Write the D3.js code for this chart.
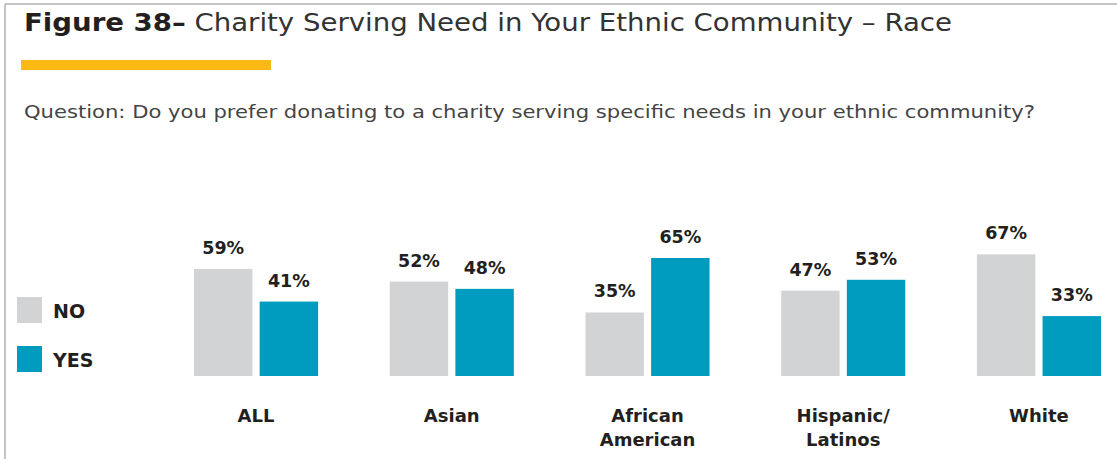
<!DOCTYPE html>
<html>
<head>
<meta charset="utf-8">
<script src="https://cdn.jsdelivr.net/npm/d3@7"></script>
<style>
  body { margin: 0; background: #fff; }
  svg text { font-family: "DejaVu Sans", sans-serif; fill: #231f20; }
</style>
</head>
<body>
<svg id="chart" width="1117" height="459"></svg>
<script>
const categories = ['ALL', 'Asian', 'African American', 'Hispanic/ Latinos', 'White'];
const series = ['NO', 'YES'];
const noValues = [59, 52, 35, 47, 67];
const yesValues = [41, 48, 65, 53, 33];

const colors = { NO: '#d1d3d4', YES: '#009cbf' };

const svg = d3.select('#chart');
const W = +svg.attr('width'), H = +svg.attr('height');

svg.append('rect').attr('width', W).attr('height', H).attr('fill', '#fff');

// frame lines (top + left)
svg.append('line').attr('x1', 5).attr('x2', W).attr('y1', 4).attr('y2', 4)
  .attr('stroke', '#c4c4c4').attr('stroke-width', 2);
svg.append('line').attr('x1', 5).attr('x2', 5).attr('y1', 4).attr('y2', H)
  .attr('stroke', '#c4c4c4').attr('stroke-width', 2);

// title
const title = svg.append('text')
  .attr('x', 24).attr('y', 31)
  .attr('font-size', 25)
  .attr('textLength', 928).attr('lengthAdjust', 'spacingAndGlyphs');
title.append('tspan').attr('font-weight', 'bold').text('Figure 38–');
title.append('tspan').text(' Charity Serving Need in Your Ethnic Community – Race')
  .style('fill', '#333');

svg.append('rect').attr('x', 21).attr('y', 60).attr('width', 250).attr('height', 10)
  .attr('fill', '#fdb913');

svg.append('text')
  .attr('x', 24).attr('y', 118)
  .attr('font-size', 17)
  .attr('textLength', 1011).attr('lengthAdjust', 'spacingAndGlyphs')
  .style('fill', '#444')
  .text('Question: Do you prefer donating to a charity serving specific needs in your ethnic community?');

// scales
const data = categories.map((c, i) => ({ cat: c, NO: noValues[i], YES: yesValues[i] }));

const x0 = d3.scaleBand().domain(categories).range([194, 1101]).paddingInner(0.366).paddingOuter(0);
const x1 = d3.scaleBand().domain(series).range([0, x0.bandwidth()]).paddingInner(0.11);
const y = d3.scaleLinear().domain([0, 65]).range([376, 258]);

const g = svg.append('g');

const group = g.selectAll('.grp')
  .data(data)
  .enter()
  .append('g')
  .attr('class', 'grp')
  .attr('transform', d => `translate(${x0(d.cat)},0)`);

group.selectAll('rect')
  .data(d => series.map(key => ({ key, value: d[key] })))
  .enter()
  .append('rect')
  .attr('x', d => x1(d.key))
  .attr('y', d => y(d.value))
  .attr('width', x1.bandwidth())
  .attr('height', d => y(0) - y(d.value))
  .attr('fill', d => colors[d.key]);

group.selectAll('.val')
  .data(d => series.map(key => ({ key, value: d[key] })))
  .enter()
  .append('text')
  .attr('class', 'val')
  .attr('x', d => x1(d.key) + x1.bandwidth() / 2)
  .attr('y', d => y(d.value) - 15)
  .attr('text-anchor', 'middle')
  .attr('font-size', 17.5)
  .attr('font-weight', 'bold')
  .text(d => d.value + '%');

// category labels (two lines where the original breaks them)
group.each(function (d) {
  const words = d.cat === 'African American' ? ['African', 'American']
    : d.cat === 'Hispanic/ Latinos' ? ['Hispanic/', 'Latinos'] : [d.cat];
  const t = d3.select(this).append('text')
    .attr('x', x0.bandwidth() / 2)
    .attr('y', 422)
    .attr('text-anchor', 'middle')
    .attr('font-size', 18)
    .attr('font-weight', 'bold');
  words.forEach((w, i) => {
    t.append('tspan').attr('x', x0.bandwidth() / 2).attr('dy', i ? 24 : 0).text(w);
  });
});

// legend
const legend = svg.selectAll('.legend')
  .data(series)
  .enter()
  .append('g')
  .attr('class', 'legend')
  .attr('transform', (d, i) => `translate(17,${297 + i * 49})`);

legend.append('rect')
  .attr('width', 25).attr('height', 26)
  .attr('fill', d => colors[d]);

legend.append('text')
  .attr('x', 36).attr('y', 21)
  .attr('font-size', 19)
  .attr('font-weight', 'bold')
  .text(d => d);
</script>
</body>
</html>
